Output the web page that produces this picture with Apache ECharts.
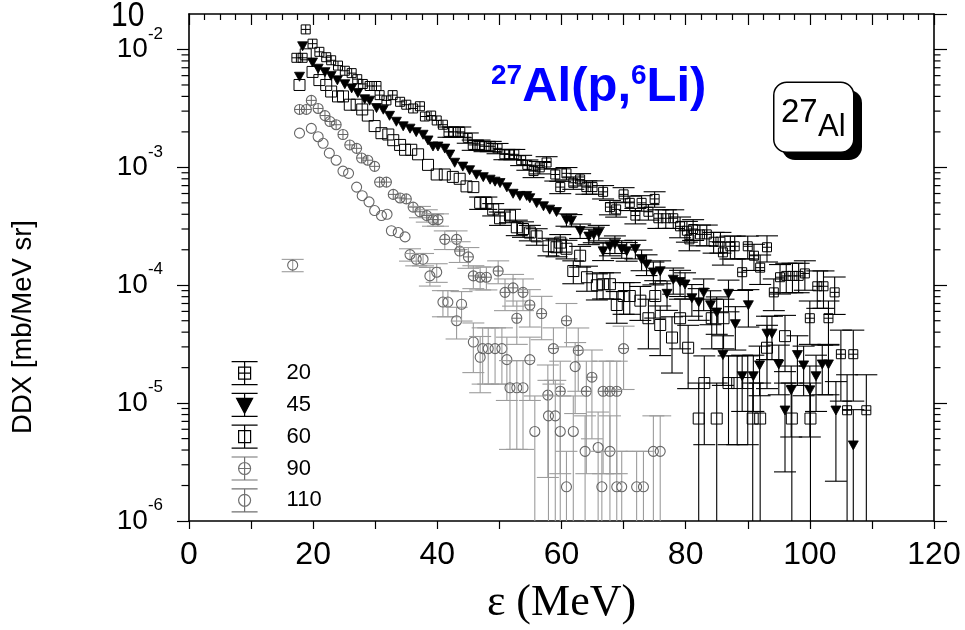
<!DOCTYPE html>
<html>
<head>
<meta charset="utf-8">
<script src="https://cdn.jsdelivr.net/npm/echarts@6/dist/echarts.min.js"></script>
<style>
  html, body { margin: 0; padding: 0; background: #fff; }
  #chart { width: 965px; height: 630px; }
</style>
</head>
<body>
<div id="chart"></div>
<script>
// Double-differential cross sections of 27Al(p,6Li) versus outgoing energy.
// Each point: [energy (MeV), DDX (mb/MeV sr), relative uncertainty].
const angles = ['20', '45', '60', '90', '110'];

const ddx20 = [
  [17.3, 8.5e-3, 0.02], [18.3, 8.5e-3, 0.02], [18.8, 1.48e-2, 0.02], [19.9, 1.12e-2, 0.02],
  [21.0, 9.55e-3, 0.02], [22.1, 8.6e-3, 0.02], [22.9, 8.1e-3, 0.02], [24.0, 7.3e-3, 0.02],
  [25.1, 6.6e-3, 0.03], [26.2, 6.3e-3, 0.03], [27.1, 5.6e-3, 0.03], [28.0, 5.1e-3, 0.03],
  [29.1, 4.9e-3, 0.03], [30.2, 4.9e-3, 0.03], [30.7, 4.1e-3, 0.03], [31.8, 3.7e-3, 0.03],
  [32.8, 4.1e-3, 0.03], [34.0, 3.6e-3, 0.03], [35.0, 3.4e-3, 0.04], [36.1, 3.16e-3, 0.04],
  [37.2, 3.3e-3, 0.04], [38.0, 2.7e-3, 0.05], [39.0, 2.75e-3, 0.05], [39.9, 2.5e-3, 0.06],
  [40.9, 2.3e-3, 0.08], [41.8, 2.0e-3, 0.1], [42.6, 2.0e-3, 0.1], [43.7, 2.0e-3, 0.1],
  [44.9, 1.78e-3, 0.1], [45.7, 1.55e-3, 0.1], [46.8, 1.55e-3, 0.1], [47.6, 1.51e-3, 0.1],
  [48.6, 1.51e-3, 0.1], [49.7, 1.45e-3, 0.1], [50.8, 1.29e-3, 0.1], [51.6, 1.29e-3, 0.1],
  [52.4, 1.29e-3, 0.1], [53.5, 1.15e-3, 0.1], [54.5, 1.05e-3, 0.1], [55.5, 9.3e-4, 0.12],
  [56.5, 1.0e-3, 0.12], [57.6, 1.1e-3, 0.12], [59.0, 8.7e-4, 0.12], [59.8, 6.8e-4, 0.12],
  [60.8, 8.9e-4, 0.12], [61.9, 7.4e-4, 0.12], [63.0, 7.9e-4, 0.12], [64.0, 6.8e-4, 0.13],
  [65.0, 6.8e-4, 0.13], [66.7, 6.2e-4, 0.13], [67.8, 4.6e-4, 0.14], [68.8, 4.4e-4, 0.14],
  [70.0, 5.9e-4, 0.14], [71.0, 5.0e-4, 0.14], [71.9, 3.9e-4, 0.15], [72.9, 5.0e-4, 0.15],
  [74.0, 4.2e-4, 0.15], [75.0, 5.4e-4, 0.15], [75.6, 3.7e-4, 0.18], [76.8, 3.7e-4, 0.18],
  [78.0, 3.7e-4, 0.18], [79.1, 3.16e-4, 0.2], [80.2, 2.9e-4, 0.2], [80.6, 2.45e-4, 0.2],
  [81.2, 3.0e-4, 0.2], [82.3, 2.7e-4, 0.2], [83.4, 2.7e-4, 0.2], [84.5, 2.34e-4, 0.2],
  [85.6, 2.34e-4, 0.2], [86.0, 1.9e-4, 0.22], [87.2, 2.14e-4, 0.22], [87.9, 2.14e-4, 0.22],
  [89.1, 1.29e-4, 0.3], [90.0, 2.14e-4, 0.22], [91.0, 1.78e-4, 0.25], [92.0, 1.41e-4, 0.28],
  [93.1, 2.1e-4, 0.25], [94.2, 8.7e-5, 0.3], [95.2, 1.17e-4, 0.28], [96.2, 1.2e-4, 0.28],
  [97.2, 1.2e-4, 0.28], [98.2, 1.2e-4, 0.28], [99.2, 1.26e-4, 0.28], [100.0, 5.25e-5, 0.4],
  [101.2, 9.8e-5, 0.35], [102.2, 9.8e-5, 0.35], [103.0, 5.25e-5, 0.4], [104.0, 8.7e-5, 0.35],
  [105.0, 2.6e-5, 0.6], [106.0, 8.7e-6, 1.0], [107.0, 2.6e-5, 0.6], [109.1, 8.7e-6, 1.0]
];

const ddx45 = [
  [17.8, 5.9e-3, 0.02], [18.3, 1.07e-2, 0.02], [19.9, 7.8e-3, 0.02], [20.8, 6.9e-3, 0.02],
  [21.9, 6.45e-3, 0.02], [22.9, 6.0e-3, 0.02], [23.9, 5.5e-3, 0.02], [25.1, 5.1e-3, 0.02],
  [26.2, 4.7e-3, 0.02], [27.2, 4.3e-3, 0.02], [28.3, 3.8e-3, 0.03], [29.1, 3.7e-3, 0.03],
  [30.2, 3.2e-3, 0.03], [31.3, 3.1e-3, 0.03], [32.3, 2.75e-3, 0.03], [33.4, 2.45e-3, 0.03],
  [34.5, 2.24e-3, 0.03], [35.6, 2.14e-3, 0.03], [36.6, 2.0e-3, 0.04], [37.7, 1.9e-3, 0.04],
  [38.5, 1.7e-3, 0.05], [39.3, 1.51e-3, 0.05], [40.1, 1.51e-3, 0.05], [41.2, 1.45e-3, 0.06],
  [42.0, 1.29e-3, 0.06], [42.8, 1.1e-3, 0.06], [44.1, 1.02e-3, 0.08], [45.2, 9.5e-4, 0.08],
  [46.3, 8.7e-4, 0.08], [47.4, 8.3e-4, 0.08], [48.5, 7.9e-4, 0.08], [49.3, 7.6e-4, 0.08],
  [50.1, 7.4e-4, 0.08], [51.2, 6.8e-4, 0.08], [52.2, 6.0e-4, 0.09], [53.3, 5.75e-4, 0.09],
  [54.4, 5.75e-4, 0.09], [54.9, 5.5e-4, 0.09], [56.0, 5.0e-4, 0.1], [57.1, 4.7e-4, 0.1],
  [58.1, 4.4e-4, 0.1], [59.2, 4.2e-4, 0.1], [60.8, 3.6e-4, 0.12], [61.6, 3.55e-4, 0.12],
  [63.0, 2.9e-4, 0.14], [64.4, 2.6e-4, 0.15], [65.2, 2.7e-4, 0.15], [66.0, 2.8e-4, 0.15],
  [66.7, 1.95e-4, 0.17], [67.8, 2.14e-4, 0.17], [68.6, 2.24e-4, 0.17], [69.7, 2.04e-4, 0.17],
  [70.5, 1.95e-4, 0.18], [71.9, 2.04e-4, 0.18], [72.9, 1.66e-4, 0.2], [73.7, 1.51e-4, 0.2],
  [74.8, 1.29e-4, 0.22], [75.9, 1.32e-4, 0.22], [77.0, 8.5e-5, 0.28], [78.0, 1.12e-4, 0.25],
  [79.1, 1.07e-4, 0.25], [79.9, 1.02e-4, 0.25], [81.0, 7.8e-5, 0.3], [82.1, 7.2e-5, 0.3],
  [82.9, 8.7e-5, 0.3], [84.0, 6.8e-5, 0.32], [85.0, 5.9e-5, 0.35], [86.0, 2.57e-5, 0.45],
  [86.9, 8.5e-5, 0.3], [88.0, 4.7e-5, 0.4], [89.1, 1.7e-5, 0.5], [90.1, 6.8e-5, 0.35],
  [90.9, 1.7e-5, 0.5], [91.9, 2.1e-5, 0.45], [93.1, 3.9e-5, 0.4], [93.9, 3.9e-5, 0.4],
  [95.0, 2.14e-5, 0.45], [96.0, 8.7e-6, 0.7], [97.0, 1.29e-5, 0.6], [98.0, 2.57e-5, 0.45],
  [99.0, 2.1e-5, 0.45], [100.0, 1.29e-5, 0.6], [101.0, 1.7e-5, 0.5], [102.0, 2.14e-5, 0.45],
  [103.0, 2.14e-5, 0.45], [104.2, 8.7e-6, 0.75], [107.0, 4.4e-6, 1.0]
];

const ddx60 = [
  [17.8, 5.0e-3, 0.02], [18.8, 9.1e-3, 0.02], [19.9, 6.45e-3, 0.02], [21.0, 5.5e-3, 0.02],
  [22.1, 5.0e-3, 0.02], [22.9, 4.4e-3, 0.02], [24.0, 4.0e-3, 0.02], [24.8, 4.0e-3, 0.02],
  [25.9, 3.4e-3, 0.03], [27.0, 3.4e-3, 0.03], [27.9, 3.1e-3, 0.03], [28.8, 2.75e-3, 0.03],
  [29.9, 2.24e-3, 0.03], [31.0, 1.95e-3, 0.03], [32.1, 1.9e-3, 0.04], [32.9, 1.7e-3, 0.04],
  [34.0, 1.55e-3, 0.04], [34.8, 1.41e-3, 0.05], [35.8, 1.41e-3, 0.05], [36.9, 1.29e-3, 0.06],
  [38.5, 1.05e-3, 0.08], [39.9, 8.7e-4, 0.1], [41.2, 8.7e-4, 0.1], [42.5, 8.3e-4, 0.1],
  [43.6, 8.0e-4, 0.1], [44.7, 6.9e-4, 0.1], [45.8, 6.8e-4, 0.1], [46.9, 5.0e-4, 0.12],
  [47.9, 5.0e-4, 0.12], [49.0, 4.4e-4, 0.12], [50.1, 3.7e-4, 0.13], [51.7, 3.9e-4, 0.13],
  [52.8, 3.1e-4, 0.15], [53.8, 3.0e-4, 0.15], [54.9, 2.8e-4, 0.15], [56.0, 2.6e-4, 0.16],
  [57.9, 2.14e-4, 0.17], [59.2, 2.1e-4, 0.17], [59.8, 2.3e-4, 0.17], [60.8, 2.04e-4, 0.18],
  [61.9, 1.32e-4, 0.22], [63.0, 1.78e-4, 0.2], [64.1, 1.17e-4, 0.24], [65.7, 1.0e-4, 0.25],
  [66.7, 1.02e-4, 0.25], [67.8, 1.02e-4, 0.25], [68.9, 6.8e-5, 0.3], [70.0, 8.1e-5, 0.3],
  [71.0, 8.1e-5, 0.3], [72.7, 7.4e-5, 0.32], [74.0, 5.25e-5, 0.45], [75.1, 8.1e-5, 0.35],
  [75.9, 4.6e-5, 0.45], [77.8, 3.6e-5, 0.5], [79.1, 5.25e-5, 0.45], [80.4, 2.95e-5, 0.55],
  [82.1, 7.4e-6, 1.0], [83.0, 1.48e-5, 0.7], [84.2, 5.25e-5, 0.45], [85.0, 7.4e-6, 1.0],
  [86.1, 5.25e-5, 0.45], [86.9, 1.48e-5, 0.7], [88.3, 1.48e-5, 0.7], [90.0, 1.48e-5, 0.7],
  [90.8, 7.4e-6, 1.0], [92.0, 7.4e-6, 1.0], [93.1, 2.95e-5, 0.55], [96.0, 3.7e-5, 0.5],
  [97.1, 7.4e-6, 1.0], [100.1, 7.4e-6, 1.0]
];

const ddx90 = [
  [17.8, 3.1e-3, 0.02], [18.9, 3.1e-3, 0.02], [19.7, 3.7e-3, 0.02], [20.8, 3.16e-3, 0.02],
  [21.9, 2.75e-3, 0.02], [22.7, 2.45e-3, 0.02], [23.7, 2.3e-3, 0.02], [24.8, 1.9e-3, 0.03],
  [25.9, 1.55e-3, 0.03], [27.0, 1.45e-3, 0.03], [27.8, 1.2e-3, 0.04], [28.8, 1.15e-3, 0.04],
  [29.9, 1.02e-3, 0.05], [30.7, 7.5e-4, 0.08], [31.8, 7.5e-4, 0.08], [32.9, 5.9e-4, 0.1],
  [34.0, 5.5e-4, 0.1], [35.0, 5.4e-4, 0.1], [36.1, 4.6e-4, 0.1], [37.2, 4.2e-4, 0.11],
  [38.3, 3.9e-4, 0.12], [39.3, 3.6e-4, 0.12], [40.1, 3.6e-4, 0.12], [41.2, 2.45e-4, 0.18],
  [43.1, 2.45e-4, 0.18], [43.6, 1.95e-4, 0.2], [45.0, 1.74e-4, 0.2], [45.8, 1.2e-4, 0.22],
  [46.9, 1.17e-4, 0.22], [47.9, 1.17e-4, 0.22], [49.8, 1.32e-4, 0.22], [50.9, 8.7e-5, 0.3],
  [52.2, 9.5e-5, 0.3], [52.8, 5.25e-5, 0.4], [53.8, 8.7e-5, 0.3], [54.9, 6.8e-5, 0.35],
  [56.8, 5.75e-5, 0.4], [57.8, 1.17e-5, 0.8], [58.7, 2.9e-5, 0.5], [59.8, 1.26e-5, 0.8],
  [60.8, 5.0e-5, 0.4], [62.7, 2.8e-5, 0.55], [64.0, 1.26e-5, 0.8], [64.9, 1.66e-5, 0.7],
  [66.7, 1.26e-5, 0.8], [67.8, 1.26e-5, 0.8], [68.9, 1.26e-5, 0.8], [70.0, 2.9e-5, 0.55]
];

const ddx110 = [
  [16.7, 1.48e-4, 0.12], [17.8, 1.95e-3, 0.02], [19.7, 2.14e-3, 0.02], [20.8, 1.82e-3, 0.02],
  [21.6, 1.6e-3, 0.02], [22.6, 1.32e-3, 0.02], [23.7, 1.15e-3, 0.03], [24.8, 9.3e-4, 0.03],
  [25.7, 8.9e-4, 0.03], [27.0, 6.8e-4, 0.04], [27.9, 5.75e-4, 0.04], [29.0, 5.1e-4, 0.05],
  [29.9, 4.3e-4, 0.06], [31.0, 3.9e-4, 0.08], [31.9, 4.0e-4, 0.08], [32.6, 2.9e-4, 0.1],
  [33.7, 2.8e-4, 0.1], [34.8, 2.57e-4, 0.1], [35.6, 1.82e-4, 0.12], [36.6, 1.66e-4, 0.12],
  [37.7, 1.66e-4, 0.12], [38.8, 1.2e-4, 0.18], [39.9, 1.29e-4, 0.18], [40.9, 7.2e-5, 0.25],
  [41.7, 7.2e-5, 0.25], [43.1, 5.0e-5, 0.3], [43.9, 6.9e-5, 0.28], [45.8, 3.3e-5, 0.45],
  [46.9, 2.45e-5, 0.5], [47.3, 2.9e-5, 0.5], [48.2, 2.9e-5, 0.5], [49.3, 2.9e-5, 0.5],
  [50.4, 2.9e-5, 0.5], [51.2, 2.34e-5, 0.55], [51.7, 1.35e-5, 0.7], [52.8, 1.35e-5, 0.7],
  [53.8, 1.35e-5, 0.7], [54.9, 2.34e-5, 0.55], [55.7, 5.75e-6, 1.0], [57.9, 7.8e-6, 1.0],
  [59.0, 7.8e-6, 1.0], [59.8, 5.75e-6, 1.0], [60.8, 1.95e-6, 1.0], [61.9, 5.75e-6, 1.0],
  [62.2, 2.04e-5, 0.6], [63.8, 3.9e-6, 1.0], [65.9, 4.2e-6, 1.0], [66.5, 1.95e-6, 1.0],
  [67.8, 3.9e-6, 1.0], [68.9, 1.95e-6, 1.0], [69.7, 1.95e-6, 1.0], [72.1, 1.95e-6, 1.0],
  [73.2, 1.95e-6, 1.0], [74.8, 3.9e-6, 1.0], [75.9, 3.9e-6, 1.0]
];

// Axis ranges and tick labels
const X_MIN = 0, X_MAX = 120, X_STEP = 10, X_LABEL_STEP = 20;
const Y_MIN = 1e-6, Y_MAX = 2e-2;

// Minor log ticks (2..9 of each decade) inside the y range
const logMinorTicks = [];
for (let d = -6; d <= -2; d++) {
  for (let m = 2; m <= 9; m++) {
    const v = m * Math.pow(10, d);
    if (v > Y_MIN && v < Y_MAX) logMinorTicks.push([X_MIN, v]);
  }
}

const FONT = '"Liberation Sans", Arial, Helvetica, sans-serif';
const SERIF = '"Liberation Serif", "Times New Roman", serif';
const DARK = '#000';
const GREY_MARK = '#666';
const GREY_BAR = '#9c9c9c';
const CAP_HALF = 11;

const styleByAngle = {
  '20': { marker: 'crossSquare', half: 4.5, mark: DARK, bar: DARK },
  '45': { marker: 'triangleDown', half: 5, mark: DARK, bar: DARK },
  '60': { marker: 'square', half: 5.5, mark: DARK, bar: DARK },
  '90': { marker: 'crossCircle', half: 5, mark: GREY_MARK, bar: GREY_BAR },
  '110': { marker: 'circle', half: 5, mark: GREY_MARK, bar: GREY_BAR }
};

function line(x1, y1, x2, y2, color, w) {
  return { type: 'line', shape: { x1, y1, x2, y2 }, style: { stroke: color, lineWidth: w || 1 }, silent: true };
}

function markerShapes(kind, x, y, s) {
  const h = s.half;
  const c = s.mark;
  switch (kind) {
    case 'crossSquare':
      return [
        { type: 'rect', shape: { x: x - h, y: y - h, width: 2 * h, height: 2 * h }, style: { fill: 'none', stroke: c, lineWidth: 1 } },
        line(x - h, y, x + h, y, c), line(x, y - h, x, y + h, c)
      ];
    case 'triangleDown':
      return [{ type: 'polygon', shape: { points: [[x - h, y - h * 0.85], [x + h, y - h * 0.85], [x, y + h * 0.95]] }, style: { fill: c, stroke: c, lineWidth: 0.8 } }];
    case 'square':
      return [{ type: 'rect', shape: { x: x - h, y: y - h, width: 2 * h, height: 2 * h }, style: { fill: 'none', stroke: c, lineWidth: 1 } }];
    case 'crossCircle':
      return [
        { type: 'circle', shape: { cx: x, cy: y, r: h }, style: { fill: 'none', stroke: c, lineWidth: 1.1 } },
        line(x - h, y, x + h, y, c), line(x, y - h, x, y + h, c)
      ];
    default:
      return [{ type: 'circle', shape: { cx: x, cy: y, r: h }, style: { fill: 'none', stroke: c, lineWidth: 1.1 } }];
  }
}

function makeRenderer(angle) {
  const s = styleByAngle[angle];
  return function (params, api) {
    const e = api.value(0), v = api.value(1), r = api.value(2);
    const p = api.coord([e, v]);
    const axisY = api.coord([e, Y_MIN])[1];
    const topY = Math.max(api.coord([e, v * (1 + r)])[1], api.coord([e, Y_MAX])[1]);
    const lowVal = v * (1 - r);
    const botY = lowVal <= Y_MIN ? axisY : Math.min(api.coord([e, lowVal])[1], axisY);
    const children = [];
    // Error bars are drawn only where they reach past the marker
    if (p[1] - topY > s.half + 0.5 || botY - p[1] > s.half + 0.5) {
      children.push(line(p[0], topY, p[0], botY, s.bar, 1.1));
      children.push(line(p[0] - CAP_HALF, topY, p[0] + CAP_HALF, topY, s.bar, 1.1));
      if (botY < axisY - 0.5) children.push(line(p[0] - CAP_HALF, botY, p[0] + CAP_HALF, botY, s.bar, 1.1));
    }
    return { type: 'group', children: children.concat(markerShapes(s.marker, p[0], p[1], s)) };
  };
}

const seriesData = { '20': ddx20, '45': ddx45, '60': ddx60, '90': ddx90, '110': ddx110 };

const series = angles.map(a => ({
  name: a,
  type: 'custom',
  xAxisIndex: 0,
  yAxisIndex: 0,
  dimensions: ['E', 'DDX', 'rel'],
  encode: { x: 0, y: 1 },
  data: seriesData[a],
  renderItem: makeRenderer(a),
  clip: false,
  silent: true,
  z: a === '90' || a === '110' ? 2 : 3
}));

// Minor ticks of the log axis on the left and right frame edges
series.push({
  type: 'custom',
  xAxisIndex: 0,
  yAxisIndex: 0,
  encode: { x: 0, y: 1 },
  data: logMinorTicks,
  silent: true,
  clip: false,
  renderItem: function (params, api) {
    const v = api.value(1);
    const l = api.coord([X_MIN, v]);
    const r = api.coord([X_MAX, v]);
    return {
      type: 'group', children: [
        line(l[0] - 7.5, l[1], l[0], l[1], DARK, 1.2),
        line(r[0], r[1], r[0] + 6.5, r[1], DARK, 1.2)
      ]
    };
  }
});

// Legend glyphs: marker with its error bar and caps
const legendIcons = {
  '20': 'path://M0 0H26M0 23H26M13 0V23M7 5.5H19V17.5H7ZM7 11.5H19',
  '45': 'path://M0 0H26M0 23H26M13 0V23M5 5H21L13 20Z',
  '60': 'path://M0 0H26M0 23H26M13 0V23M7 5.5H19V17.5H7Z',
  '90': 'path://M0 0H26M0 23H26M13 0V23M19 11.5A6 6 0 1 1 7 11.5A6 6 0 1 1 19 11.5ZM7 11.5H19',
  '110': 'path://M0 0H26M0 23H26M13 0V23M19 11.5A6 6 0 1 1 7 11.5A6 6 0 1 1 19 11.5Z'
};

const legendData = angles.map(a => ({
  name: a,
  icon: legendIcons[a],
  itemStyle: {
    color: a === '45' ? '#000' : 'rgba(0,0,0,0)',
    borderColor: a === '90' || a === '110' ? '#707070' : '#000',
    borderWidth: 1.2
  }
}));

const frameLine = { show: true, onZero: false, lineStyle: { color: DARK, width: 1.6 } };

const option = {
  animation: false,
  backgroundColor: '#fff',
  title: {
    text: '{s|27}{m|Al(p,}{s|6}{m|Li)}',
    left: 491,
    top: 62,
    padding: 0,
    textStyle: {
      rich: {
        m: { fontSize: 49, fontWeight: 'bold', color: '#0000ff', fontFamily: FONT, lineHeight: 50 },
        s: { fontSize: 28, fontWeight: 'bold', color: '#0000ff', fontFamily: FONT, lineHeight: 32, verticalAlign: 'top' }
      }
    }
  },
  legend: {
    orient: 'vertical',
    left: 231,
    top: 361,
    padding: 0,
    itemWidth: 26,
    itemHeight: 23,
    itemGap: 7.6,
    selectedMode: false,
    textStyle: { fontSize: 22, color: '#000', fontFamily: FONT, padding: [0, 0, 0, 24] },
    data: legendData
  },
  grid: { left: 189, right: 31, top: 14, bottom: 108, containLabel: false },
  xAxis: [
    {
      type: 'value', position: 'bottom', min: X_MIN, max: X_MAX, interval: X_STEP,
      axisLine: frameLine,
      axisTick: { show: true, inside: false, length: 8, lineStyle: { color: DARK, width: 1.2 } },
      axisLabel: {
        margin: 18, fontSize: 32, color: '#000', fontFamily: FONT,
        formatter: v => (v % X_LABEL_STEP === 0 ? String(v) : '')
      },
      splitLine: { show: false },
      name: 'ε (MeV)', nameLocation: 'middle', nameGap: 60,
      nameTextStyle: { fontFamily: SERIF, fontSize: 44, color: '#000' }
    },
    {
      type: 'value', position: 'top', min: X_MIN, max: X_MAX, interval: X_STEP,
      axisLine: frameLine,
      axisTick: { show: true, inside: true, length: 11, lineStyle: { color: DARK, width: 1.2 } },
      minorTick: { show: true, splitNumber: 4, length: 6, lineStyle: { color: DARK, width: 1.2 } },
      axisLabel: { show: false },
      splitLine: { show: false }
    }
  ],
  yAxis: [
    {
      type: 'log', logBase: 10, position: 'left', min: Y_MIN, max: Y_MAX,
      axisLine: frameLine,
      axisTick: { show: true, inside: false, length: 12, lineStyle: { color: DARK, width: 1.2 } },
      axisLabel: {
        margin: 26, color: '#000', fontFamily: FONT,
        formatter: v => '{b|10}{s|' + Math.round(Math.log10(v)) + '}',
        rich: {
          b: { fontSize: 28, lineHeight: 48, fontFamily: FONT, color: '#000' },
          s: { fontSize: 17, lineHeight: 17, fontFamily: FONT, color: '#000', verticalAlign: 'top' }
        }
      },
      splitLine: { show: false }
    },
    {
      type: 'log', logBase: 10, position: 'right', min: Y_MIN, max: Y_MAX,
      axisLine: frameLine,
      axisTick: { show: true, inside: false, length: 13, lineStyle: { color: DARK, width: 1.2 } },
      axisLabel: { show: false },
      splitLine: { show: false }
    }
  ],
  graphic: [
    // label of the upper frame edge, running off the top of the canvas
    { type: 'text', left: 111, top: -1, scaleY: 1.15, style: { text: '10', fontSize: 30, fontFamily: FONT, fill: '#000' } },
    // target nucleus badge with drop shadow
    { type: 'rect', left: 782, top: 90, shape: { width: 80, height: 70, r: 13 }, style: { fill: '#000' }, z: 10 },
    { type: 'rect', left: 773, top: 81.5, shape: { width: 80, height: 70, r: 13 }, style: { fill: '#fff', stroke: '#000', lineWidth: 1.5 }, z: 11 },
    { type: 'text', left: 781, top: 96, style: { text: '27', fontSize: 33, fontFamily: FONT, fill: '#000' }, z: 12 },
    { type: 'text', left: 818, top: 112, style: { text: 'Al', fontSize: 31, fontFamily: FONT, fill: '#000' }, z: 12 },
    // y-axis title
    {
      type: 'text', x: 23, y: 327, rotation: Math.PI / 2,
      style: { text: 'DDX [mb/MeV sr]', fontSize: 27.5, fontFamily: FONT, fill: '#000', align: 'center', verticalAlign: 'middle' }
    }
  ],
  series: series
};

const chart = echarts.init(document.getElementById('chart'), null, { renderer: 'canvas' });
chart.setOption(option);
</script>
</body>
</html>
